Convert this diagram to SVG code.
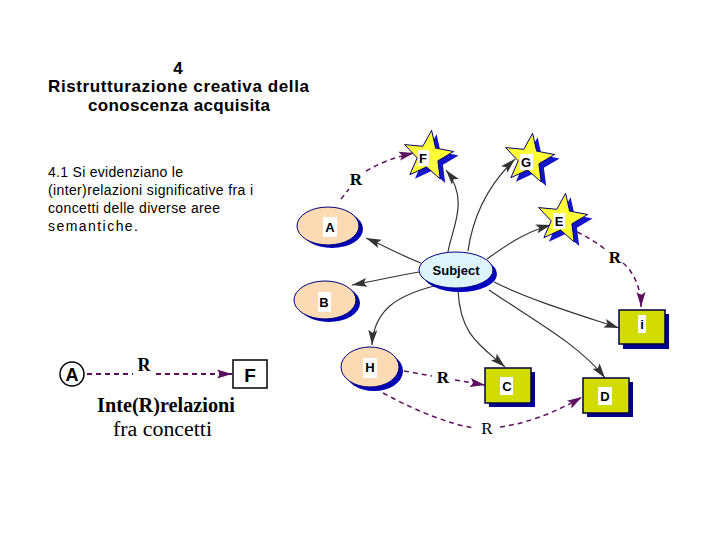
<svg xmlns="http://www.w3.org/2000/svg" width="720" height="540" viewBox="0 0 720 540">
<style>
.t{font-family:"Liberation Sans",Arial,sans-serif;fill:#000}
.title{font-size:17px;font-weight:bold}
.para{font-size:14px}
.lbl{font-family:"Liberation Sans",Arial,sans-serif;font-size:13px;font-weight:bold;text-anchor:middle;fill:#000}
.ser{font-family:"Liberation Serif","Times New Roman",serif;fill:#000}
.ell{fill:#fbdab4;stroke:#00007a;stroke-width:1}
.esh{fill:#0000b4}
.box{fill:#d2dc00;stroke:#000040;stroke-width:1.5}
.bsh{fill:#00008c}
.star{fill:#ffff33;stroke:#00006e;stroke-width:1}
.ssh{fill:#1414c8}
.wb{fill:#fff}
.con{fill:none;stroke:#333;stroke-width:1.2}
.rel{fill:none;stroke:#5e0e5e;stroke-width:1.5;stroke-dasharray:5,4}
</style>
<defs>
<marker id="ag" markerUnits="userSpaceOnUse" markerWidth="16" markerHeight="10" refX="15" refY="5" orient="auto">
<path d="M0,0.5 L15,5 L0,9.5 L3,5 z" fill="#333"/>
</marker>
<marker id="ap" markerUnits="userSpaceOnUse" markerWidth="16" markerHeight="10" refX="15" refY="5" orient="auto">
<path d="M0,0.5 L15,5 L0,9.5 L3,5 z" fill="#5e0e5e"/>
</marker>
<path id="st" d="M3.6,-25.7 L7.6,-7.9 L25.6,-4.5 L9.9,4.8 L12.2,23 L-1.5,10.9 L-18.1,18.7 L-10.8,1.9 L-23.4,-11.4 L-5.2,-9.7 z"/>
</defs>

<g id="title">
<text class="t title" x="178" y="74" text-anchor="middle">4</text>
<text class="t title" x="48" y="92" textLength="261" lengthAdjust="spacing">Ristrutturazione creativa  della</text>
<text class="t title" x="88" y="111" textLength="182" lengthAdjust="spacing">conoscenza acquisita</text>
</g>
<g id="paragraph">
<text class="t para" x="48" y="177" textLength="135" lengthAdjust="spacing">4.1 Si evidenziano le</text>
<text class="t para" x="48" y="195" textLength="205" lengthAdjust="spacing">(inter)relazioni significative fra i</text>
<text class="t para" x="48" y="213" textLength="172" lengthAdjust="spacing">concetti delle diverse aree</text>
<text class="t para" x="48" y="231" textLength="90" lengthAdjust="spacing">semantiche.</text>
</g>

<g id="connectors">
<path class="con" d="M421,263 C400,255 385,246 366,238" marker-end="url(#ag)"/>
<path class="con" d="M419,272 C400,275 380,280 352,285" marker-end="url(#ag)"/>
<path class="con" d="M434,286 C400,295 374,308 372,345" marker-end="url(#ag)"/>
<path class="con" d="M448,252 C452,228 470,200 446,170" marker-end="url(#ag)"/>
<path class="con" d="M468,251 C472,222 485,188 515,159" marker-end="url(#ag)"/>
<path class="con" d="M487,259 C505,246 525,232 551,225" marker-end="url(#ag)"/>
<path class="con" d="M494,282 C530,300 580,315 619,328" marker-end="url(#ag)"/>
<path class="con" d="M489,290 C530,318 580,345 605,378" marker-end="url(#ag)"/>
<path class="con" d="M458,290 C460,335 480,345 505,367" marker-end="url(#ag)"/>

<path class="rel" d="M341,199 L349,189"/>
<path class="rel" d="M366,171 C380,163 395,157 414,153" marker-end="url(#ap)"/>
<path class="rel" d="M577,232 C590,238 600,245 607,251"/>
<path class="rel" d="M623,263 C635,273 641,290 641,307" marker-end="url(#ap)"/>
<path class="rel" d="M404,371 L432,376"/>
<path class="rel" d="M455,380 L485,385" marker-end="url(#ap)"/>
<path class="rel" d="M383,393 C420,413 450,424 474,428"/>
<path class="rel" d="M500,427 C530,423 560,410 582,397" marker-end="url(#ap)"/>
<text class="ser" x="356" y="185" font-size="17" font-weight="bold" text-anchor="middle">R</text>
<text class="ser" x="615" y="263" font-size="17" font-weight="bold" text-anchor="middle">R</text>
<text class="ser" x="443" y="383" font-size="17" font-weight="bold" text-anchor="middle">R</text>
<text class="ser" x="487" y="434" font-size="17" text-anchor="middle">R</text>
</g>

<g id="node-A">
<ellipse class="esh" cx="332" cy="229" rx="31" ry="19"/>
<ellipse class="ell" cx="328" cy="226" rx="31" ry="19"/>
<rect class="wb" x="323" y="217" width="14" height="20"/>
<text class="lbl" x="330" y="232">A</text>
</g>
<g id="node-B">
<ellipse class="esh" cx="329" cy="303" rx="31" ry="19"/>
<ellipse class="ell" cx="325" cy="300" rx="31" ry="19"/>
<rect class="wb" x="318" y="292" width="13" height="20"/>
<text class="lbl" x="324" y="307">B</text>
</g>
<g id="node-H">
<ellipse class="esh" cx="374" cy="371" rx="29" ry="20"/>
<ellipse class="ell" cx="370" cy="367" rx="29" ry="20"/>
<rect class="wb" x="363" y="358" width="14" height="20"/>
<text class="lbl" x="370" y="372">H</text>
</g>
<g id="node-Subject">
<ellipse cx="460" cy="274" rx="37" ry="18" fill="#0000c0"/>
<ellipse cx="456" cy="270" rx="37" ry="18" fill="#def4fc" stroke="#00007a" stroke-width="1"/>
<text class="lbl" x="456" y="275" font-size="14">Subject</text>
</g>
<g id="node-F">
<use href="#st" class="ssh" transform="translate(433,160)"/>
<use href="#st" class="star" transform="translate(428,156)"/>
<rect class="wb" x="418" y="150" width="11" height="16"/>
<text class="lbl" x="423" y="163" font-weight="normal">F</text>
</g>
<g id="node-G">
<use href="#st" class="ssh" transform="translate(534,163)"/>
<use href="#st" class="star" transform="translate(529,159)"/>
<rect class="wb" x="520" y="154" width="13" height="16"/>
<text class="lbl" x="526" y="167" font-weight="normal">G</text>
</g>
<g id="node-E">
<use href="#st" class="ssh" transform="translate(567,223)"/>
<use href="#st" class="star" transform="translate(562,219)"/>
<rect class="wb" x="553" y="213" width="12" height="16"/>
<text class="lbl" x="559" y="226" font-weight="normal">E</text>
</g>
<g id="node-i">
<rect class="bsh" x="623" y="314" width="46" height="35"/>
<rect class="box" x="619" y="310" width="46" height="34"/>
<rect class="wb" x="638" y="315" width="8" height="18"/>
<text class="lbl" x="642" y="329">i</text>
</g>
<g id="node-C">
<rect class="bsh" x="489" y="372" width="46" height="35"/>
<rect class="box" x="485" y="368" width="46" height="35"/>
<rect class="wb" x="500" y="377" width="13" height="18"/>
<text class="lbl" x="507" y="391">C</text>
</g>
<g id="node-D">
<rect class="bsh" x="587" y="382" width="46" height="35"/>
<rect class="box" x="583" y="378" width="46" height="35"/>
<rect class="wb" x="598" y="387" width="14" height="18"/>
<text class="lbl" x="605" y="401">D</text>
</g>

<g id="legend">
<circle cx="72" cy="374" r="12" fill="#fff" stroke="#000" stroke-width="1.5"/>
<text x="72" y="381" font-family="Liberation Sans,Arial,sans-serif" font-size="18" font-weight="bold" text-anchor="middle">A</text>
<path d="M87,374 L133,374 M156,374 L232,374" fill="none" stroke="#5e0e5e" stroke-width="2" stroke-dasharray="5,4" marker-end="url(#ap)"/>
<text class="ser" x="144" y="371" font-size="18" font-weight="bold" text-anchor="middle">R</text>
<rect x="233" y="360" width="34" height="28" fill="#fff" stroke="#000" stroke-width="1.5"/>
<text x="250" y="382" font-family="Liberation Sans,Arial,sans-serif" font-size="19" font-weight="bold" text-anchor="middle">F</text>
<text class="ser" x="97" y="412" font-size="20" font-weight="bold" textLength="138" lengthAdjust="spacingAndGlyphs">Inte(R)relazioni</text>
<text class="ser" x="113" y="436" font-size="20" textLength="99" lengthAdjust="spacingAndGlyphs">fra concetti</text>
</g>
</svg>
